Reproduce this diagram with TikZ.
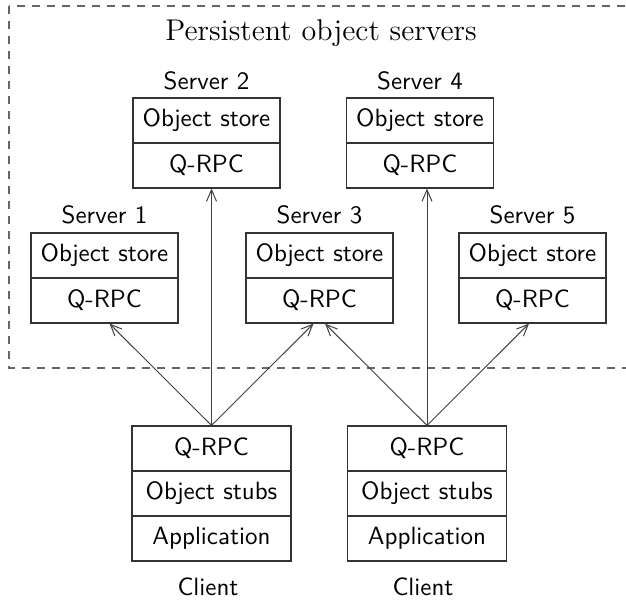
\documentclass[tikz,border=0pt]{standalone}
\usetikzlibrary{calc,arrows.meta}
\begin{document}
\begin{tikzpicture}[x=0.4pt,y=-0.4pt,
  cell/.style={draw=black!80,line width=0.45pt,minimum width=58.8pt,minimum height=18pt,inner sep=0pt,font=\sffamily\fontsize{10}{12}\selectfont},
  ccell/.style={cell,minimum width=63.6pt},
  lab/.style={font=\sffamily\fontsize{10}{12}\selectfont,inner sep=0pt},
  arr/.style={draw=black!75,line width=0.4pt,-{Straight Barb[length=4.6pt,width=4pt]}},
  frame/.style={draw=black!60,line width=0.5pt,dashed}]
\useasboundingbox (0,0) rectangle (626,602);
\clip (0,0) rectangle (626,602);
\draw[frame] (9,6) rectangle (660,368);
\node[font=\rmfamily\fontsize{12}{14}\selectfont,inner sep=0pt] (title) at (321,33) {Persistent object servers};
% servers
\node[cell] (s1o) at (104.5,255.5) {Object store};
\node[cell] (s1q) at (104.5,300.5) {Q-RPC};
\node[lab] (s1l) at (104.5,215) {Server 1};
\node[cell] (s2o) at (206.5,120.5) {Object store};
\node[cell] (s2q) at (206.5,165.5) {Q-RPC};
\node[lab] (s2l) at (206.5,81) {Server 2};
\node[cell] (s3o) at (319.5,255.5) {Object store};
\node[cell] (s3q) at (319.5,300.5) {Q-RPC};
\node[lab] (s3l) at (319.5,215) {Server 3};
\node[cell] (s4o) at (420,120.5) {Object store};
\node[cell] (s4q) at (420,165.5) {Q-RPC};
\node[lab] (s4l) at (420,81) {Server 4};
\node[cell] (s5o) at (532.5,255.5) {Object store};
\node[cell] (s5q) at (532.5,300.5) {Q-RPC};
\node[lab] (s5l) at (532.5,215) {Server 5};
% clients
\node[ccell] (c1q) at (211.5,448.5) {Q-RPC};
\node[ccell] (c1s) at (211.5,493.5) {Object stubs};
\node[ccell] (c1a) at (211.5,538.5) {Application};
\node[lab] (c1l) at (208,587) {Client};
\node[ccell] (c2q) at (427,448.5) {Q-RPC};
\node[ccell] (c2s) at (427,493.5) {Object stubs};
\node[ccell] (c2a) at (427,538.5) {Application};
\node[lab] (c2l) at (423,587) {Client};
% connectors
\draw[arr] (c1q.north) -- ($(s1q.south)+(5,0)$);
\draw[arr] (c1q.north) -- (c1q.north |- s2q.south);
\draw[arr] (c1q.north) -- ($(s3q.south)+(-6,0)$);
\draw[arr] (c2q.north) -- ($(s3q.south)+(5.5,0)$);
\draw[arr] (c2q.north) -- (c2q.north |- s4q.south);
\draw[arr] (c2q.north) -- ($(s5q.south)+(-3.5,0)$);
\end{tikzpicture}
\end{document}
